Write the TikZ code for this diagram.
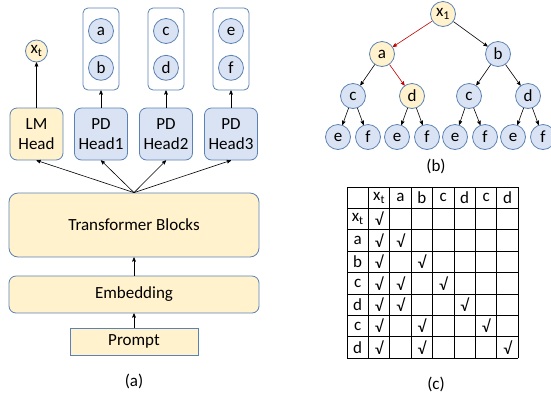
\documentclass[tikz,border=0pt]{standalone}
\usepackage{fontspec}
\setmainfont{Carlito}
\usepackage{tikz}
\usetikzlibrary{arrows,positioning,calc}
\definecolor{boxyellow}{HTML}{FFF2CC}
\definecolor{boxblue}{HTML}{DAE3F3}
\definecolor{boxline}{HTML}{5B82B5}
\definecolor{pathred}{HTML}{C00000}
\newcommand*{\CellSize}{21.4}
\newcommand*{\Tok}{x\textsubscript{t}}

\begin{document}
\begin{tikzpicture}[x=1pt,y=-1pt,>=stealth',
  every node/.style={font=\fontsize{17}{18}\selectfont},
  block/.style={draw=boxline,fill=boxyellow,rounded corners=7pt,line width=0.8pt,minimum width=250pt},
  head/.style={draw=boxline,fill=boxblue,rounded corners=7pt,line width=0.8pt,minimum width=53pt,minimum height=52pt,align=center,inner sep=1pt,font=\fontsize{17}{20}\selectfont},
  tok/.style={circle,draw=boxline,fill=boxblue,line width=0.8pt,minimum size=25pt,inner sep=0pt},
  hot/.style={tok,fill=boxyellow},
  holder/.style={draw=boxline,fill=white,rounded corners=5pt,line width=0.8pt,minimum width=36pt,minimum height=82pt},
  link/.style={->,line width=0.6pt},
  redlink/.style={link,draw=pathred}]
\useasboundingbox (0,0) rectangle (551,400);
% (a) the model
\node[draw=boxline,fill=boxyellow,line width=0.8pt,minimum width=128pt,minimum height=27pt,inner sep=0pt] (prompt) at (134,341.5) {Prompt};
\node[block,minimum height=37pt] (emb) at (134,294.5) {Embedding};
\node[block,minimum height=64pt,rounded corners=9pt] (tb) at (134,225) {Transformer Blocks};
\node[head,fill=boxyellow] (lm) at (36.5,134) {LM\\Head};
\node[head] (pd1) at (101,134) {PD\\Head1};
\node[head] (pd2) at (166,134) {PD\\Head2};
\node[head] (pd3) at (231,134) {PD\\Head3};
\node[hot,minimum size=22pt] (xt) at (36.5,51) {\Tok};
\node[holder] (box1) at (101,49) {};
\node[holder] (box2) at (166,49) {};
\node[holder] (box3) at (231,49) {};
\node[tok] (ha) at (101,31) {a};
\node[tok,below=11pt of ha] (hb) {b};
\node[tok] (hc) at (166,31) {c};
\node[tok,below=11pt of hc] (hd) {d};
\node[tok] (he) at (231,31) {e};
\node[tok,below=11pt of he] (hf) {f};
\draw[link] (prompt) -- (emb);
\draw[link] (emb) -- (tb);
\foreach \h in {lm,pd1,pd2,pd3}
  \draw[link] (tb.north) -- (\h.south);
\draw[link] (lm) -- (xt);
\draw[link] (pd1) -- (box1);
\draw[link] (pd2) -- (box2);
\draw[link] (pd3) -- (box3);
\node (capa) at (134,381) {(a)};
% (b) the tree
\node[hot] (root) at (443,14) {x\textsubscript{1}};
\node[hot] (ta) at (382,54) {a};
\node[tok] (tb2) at (498,54) {b};
\node[tok] (tc1) at (353,96) {c};
\node[hot] (td1) at (412,96) {d};
\node[tok] (tc2) at (469,96) {c};
\node[tok] (td2) at (528,96) {d};
\foreach \n/\x/\t in {e1/338/e,f1/368/f,e2/397/e,f2/427/f,e3/455/e,f3/485/f,e4/513/e,f4/543/f}
  \node[tok] (l\n) at (\x,137) {\t};
\draw[redlink] (root) -- (ta);
\draw[link] (root) -- (tb2);
\draw[link] (ta) -- (tc1);
\draw[redlink] (ta) -- (td1);
\draw[link] (tb2) -- (tc2);
\draw[link] (tb2) -- (td2);
\foreach \p/\l/\r in {tc1/e1/f1,td1/e2/f2,tc2/e3/f3,td2/e4/f4}{
  \draw[link] (\p) -- (l\l);
  \draw[link] (\p) -- (l\r);
}
\node (capb) at (436,166) {(b)};
% (c) the mask
\foreach \i in {0,...,8}{
  \draw[line width=0.9pt] (347+\i*\CellSize,187) -- (347+\i*\CellSize,358.2);
  \draw[line width=0.9pt] (347,187+\i*\CellSize) -- (518.2,187+\i*\CellSize);
}
\foreach \t [count=\k] in {\Tok,a,b,c,d,c,d}{
  \node (col\k) at (347+\k*\CellSize+0.5*\CellSize,197.7) {\t};
  \node (row\k) at (357.7,187+\k*\CellSize+0.5*\CellSize) {\t};
}
\foreach \r/\c in {1/1,2/1,2/2,3/1,3/3,4/1,4/2,4/4,5/1,5/2,5/5,6/1,6/3,6/6,7/1,7/3,7/7}
  \node at (347+\c*\CellSize+0.5*\CellSize,187+\r*\CellSize+0.5*\CellSize) {√};
\node (capc) at (436,384) {(c)};
\end{tikzpicture}
\end{document}
